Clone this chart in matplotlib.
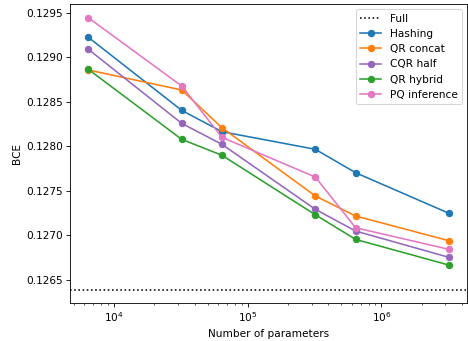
import matplotlib
matplotlib.use('Agg')
import matplotlib.pyplot as plt

# number of parameters per configuration
params = [6.4e3, 3.2e4, 6.4e4, 3.2e5, 6.4e5, 3.2e6]

full_bce = 0.12639

hashing = [0.129227, 0.128405, 0.128165, 0.127967, 0.127704, 0.127247]
qr_concat = [0.128859, 0.128634, 0.128210, 0.127442, 0.127217, 0.126939]
cqr_half = [0.129092, 0.128259, 0.128023, 0.127292, 0.127048, 0.126752]
qr_hybrid = [0.128867, 0.128079, 0.127900, 0.127231, 0.126954, 0.126665]
pq_inference = [0.129447, 0.128679, 0.128102, 0.127655, 0.127085, 0.126842]

dpi = 76
fig, ax = plt.subplots(figsize=(468 / dpi, 341 / dpi), dpi=dpi)

ax.axhline(full_bce, color='black', linestyle=':', label='Full')
ax.plot(params, hashing, marker='o', color='C0', label='Hashing')
ax.plot(params, qr_concat, marker='o', color='C1', label='QR concat')
ax.plot(params, cqr_half, marker='o', color='C4', label='CQR half')
ax.plot(params, qr_hybrid, marker='o', color='C2', label='QR hybrid')
ax.plot(params, pq_inference, marker='o', color='C6', label='PQ inference')

ax.set_xscale('log')
ax.set_xlabel('Number of parameters')
ax.set_ylabel('BCE')
ax.legend(loc='upper right')

fig.subplots_adjust(left=0.15, right=0.998, top=0.988, bottom=0.111)
fig.savefig('out.png', dpi=dpi)
